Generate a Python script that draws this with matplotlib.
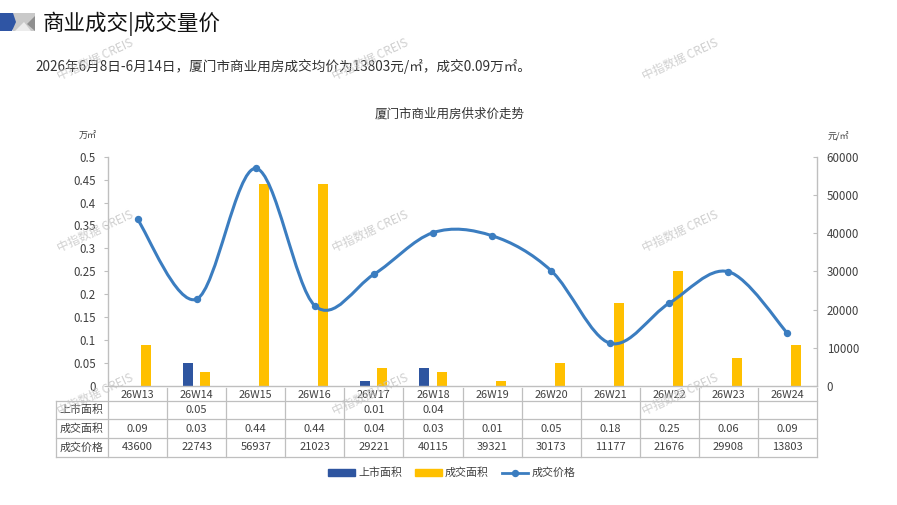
import numpy as np
import matplotlib.pyplot as plt
from matplotlib.path import Path
from matplotlib.patches import PathPatch, Polygon, Patch
from matplotlib.lines import Line2D

plt.rcParams['font.family'] = ['Noto Sans CJK SC', 'DejaVu Sans']

weeks = ['26W13', '26W14', '26W15', '26W16', '26W17', '26W18',
         '26W19', '26W20', '26W21', '26W22', '26W23', '26W24']
supply_area = [np.nan, 0.05, np.nan, np.nan, 0.01, 0.04,
               np.nan, np.nan, np.nan, np.nan, np.nan, np.nan]
deal_area = [0.09, 0.03, 0.44, 0.44, 0.04, 0.03, 0.01, 0.05, 0.18, 0.25, 0.06, 0.09]
deal_price = [43600, 22743, 56937, 21023, 29221, 40115,
              39321, 30173, 11177, 21676, 29908, 13803]
row_names = ['上市面积', '成交面积', '成交价格']

BLUE = '#2E55A0'
YELLOW = '#FFC000'
LINE = '#3B7DC0'
GRID = '#BFBFBF'
TXT = '#404040'

W, H = 897, 505
fig = plt.figure(figsize=(W / 100, H / 100), dpi=100)


def fx(px):
    return px / W


def fy(py):
    return 1 - py / H


def shape(pts, color):
    fig.add_artist(Polygon([(fx(a), fy(b)) for a, b in pts], closed=True,
                           color=color, transform=fig.transFigure, lw=0))


# header logo + titles
shape([(13, 13), (35, 13), (35, 31), (13, 31)], '#C9C9C9')
shape([(15, 31), (24, 22), (31, 31)], '#ECECEC')
shape([(35, 16), (35, 31), (27, 24)], '#8F8F8F')
shape([(0, 13), (13, 13), (16, 22), (12, 31), (0, 31)], '#2F55A4')
fig.text(fx(43), fy(24), '商业成交|成交量价', fontsize=15.5, color='#111111', va='center')
fig.text(fx(35), fy(67), '2026年6月8日-6月14日，厦门市商业用房成交均价为13803元/㎡，成交0.09万㎡。',
         fontsize=9.8, color='#333333', va='center')
fig.text(fx(450), fy(114), '厦门市商业用房供求价走势', fontsize=9, color='#333333',
         ha='center', va='center')

# watermarks
for wx in (95, 370, 680):
    for wy in (60, 232, 395):
        fig.text(fx(wx), fy(wy), '中指数据 CREIS', fontsize=8.5, color='#C4C4C4', alpha=0.8,
                 rotation=25, ha='center', va='center', zorder=10)

# main chart
ax = fig.add_axes([fx(108), fy(386), fx(817) - fx(108), fy(156.7) - fy(386)])
ax2 = ax.twinx()
x = np.arange(len(weeks))
bw = 0.17
ax.bar(x - 0.145, supply_area, bw, color=BLUE, zorder=2)
ax.bar(x + 0.145, deal_area, bw, color=YELLOW, zorder=2)
ax.set_xlim(-0.5, len(weeks) - 0.5)
ax.set_ylim(0, 0.5)
ax.set_yticks(np.arange(0, 0.501, 0.05))
ax.set_yticklabels(['0' if v == 0 else f'{v:.2f}'.rstrip('0') for v in np.arange(0, 0.501, 0.05)])
ax.set_xticks([])
ax.tick_params(axis='y', labelsize=8.3, colors=TXT, length=3, width=0.8, pad=6)
ax.tick_params(axis='y', color=GRID)

ax2.set_ylim(0, 60000)
ax2.set_yticks(np.arange(0, 60001, 10000))
ax2.tick_params(axis='y', labelsize=8.3, colors=TXT, length=3, width=0.8, pad=7, direction='in')
ax2.tick_params(axis='y', color=GRID)

for a in (ax, ax2):
    a.spines['top'].set_visible(False)
    for s in ('left', 'right', 'bottom'):
        a.spines[s].set_color(GRID)
        a.spines[s].set_linewidth(1.0)
ax.spines['right'].set_visible(False)
ax2.spines['left'].set_visible(False)
ax2.spines['bottom'].set_visible(False)

# smoothed price line (Catmull-Rom as cubic Bezier)
pts = np.column_stack([x, deal_price]).astype(float)
verts = [tuple(pts[0])]
codes = [Path.MOVETO]
n = len(pts)
for i in range(n - 1):
    p0 = pts[max(i - 1, 0)]
    p1 = pts[i]
    p2 = pts[i + 1]
    p3 = pts[min(i + 2, n - 1)]
    c1 = p1 + (p2 - p0) / 6
    c2 = p2 - (p3 - p1) / 6
    verts += [tuple(c1), tuple(c2), tuple(p2)]
    codes += [Path.CURVE4] * 3
ax2.add_patch(PathPatch(Path(verts, codes), fill=False, edgecolor=LINE, lw=2.2,
                        capstyle='round', zorder=3))
ax2.plot(x, deal_price, 'o', color=LINE, markersize=4.3, zorder=4)

fig.text(fx(88), fy(136), '万㎡', fontsize=6.5, color=TXT, ha='center', va='center')
fig.text(fx(838), fy(137), '元/㎡', fontsize=6.5, color=TXT, ha='center', va='center')

# data table below
rows_px = [388, 401, 419, 438, 457]
tab = fig.add_axes([fx(56), fy(457), fx(817) - fx(56), fy(388) - fy(457)])
left = -0.5 - 52 / (709 / 12)
tab.set_xlim(left, len(weeks) - 0.5)
tab.set_ylim(rows_px[-1], rows_px[0])
tab.axis('off')
for r in rows_px[1:]:
    tab.plot([left, len(weeks) - 0.5], [r, r], color=GRID, lw=0.9, clip_on=False)
for i in range(len(weeks) + 1):
    tab.plot([i - 0.5, i - 0.5], [rows_px[0], rows_px[-1]], color=GRID, lw=0.9, clip_on=False)
tab.plot([left, left], [rows_px[1], rows_px[-1]], color=GRID, lw=0.9, clip_on=False)

for i, w in enumerate(weeks):
    tab.text(i, (rows_px[0] + rows_px[1]) / 2 + 0.5, w, fontsize=7.8, color=TXT,
             ha='center', va='center')
cells = [
    ['' if np.isnan(v) else f'{v:.2f}' for v in supply_area],
    [f'{v:.2f}' for v in deal_area],
    [str(v) for v in deal_price],
]
for r, (name, vals) in enumerate(zip(row_names, cells)):
    yc = (rows_px[r + 1] + rows_px[r + 2]) / 2
    tab.text(left + 0.06, yc, name, fontsize=7.9, color=TXT, ha='left', va='center')
    for i, v in enumerate(vals):
        tab.text(i, yc, v, fontsize=8, color=TXT, ha='center', va='center')

handles = [Patch(color=BLUE), Patch(color=YELLOW),
           Line2D([], [], color=LINE, lw=2, marker='o', markersize=4.3)]
fig.legend(handles, ['上市面积', '成交面积', '成交价格'], loc='center',
           bbox_to_anchor=(fx(452), fy(473)), ncol=3, frameon=False, fontsize=7.9,
           handlelength=2.4, handleheight=0.5, columnspacing=1.2, handletextpad=0.3,
           labelcolor=TXT)

fig.savefig('out.png', dpi=100)
